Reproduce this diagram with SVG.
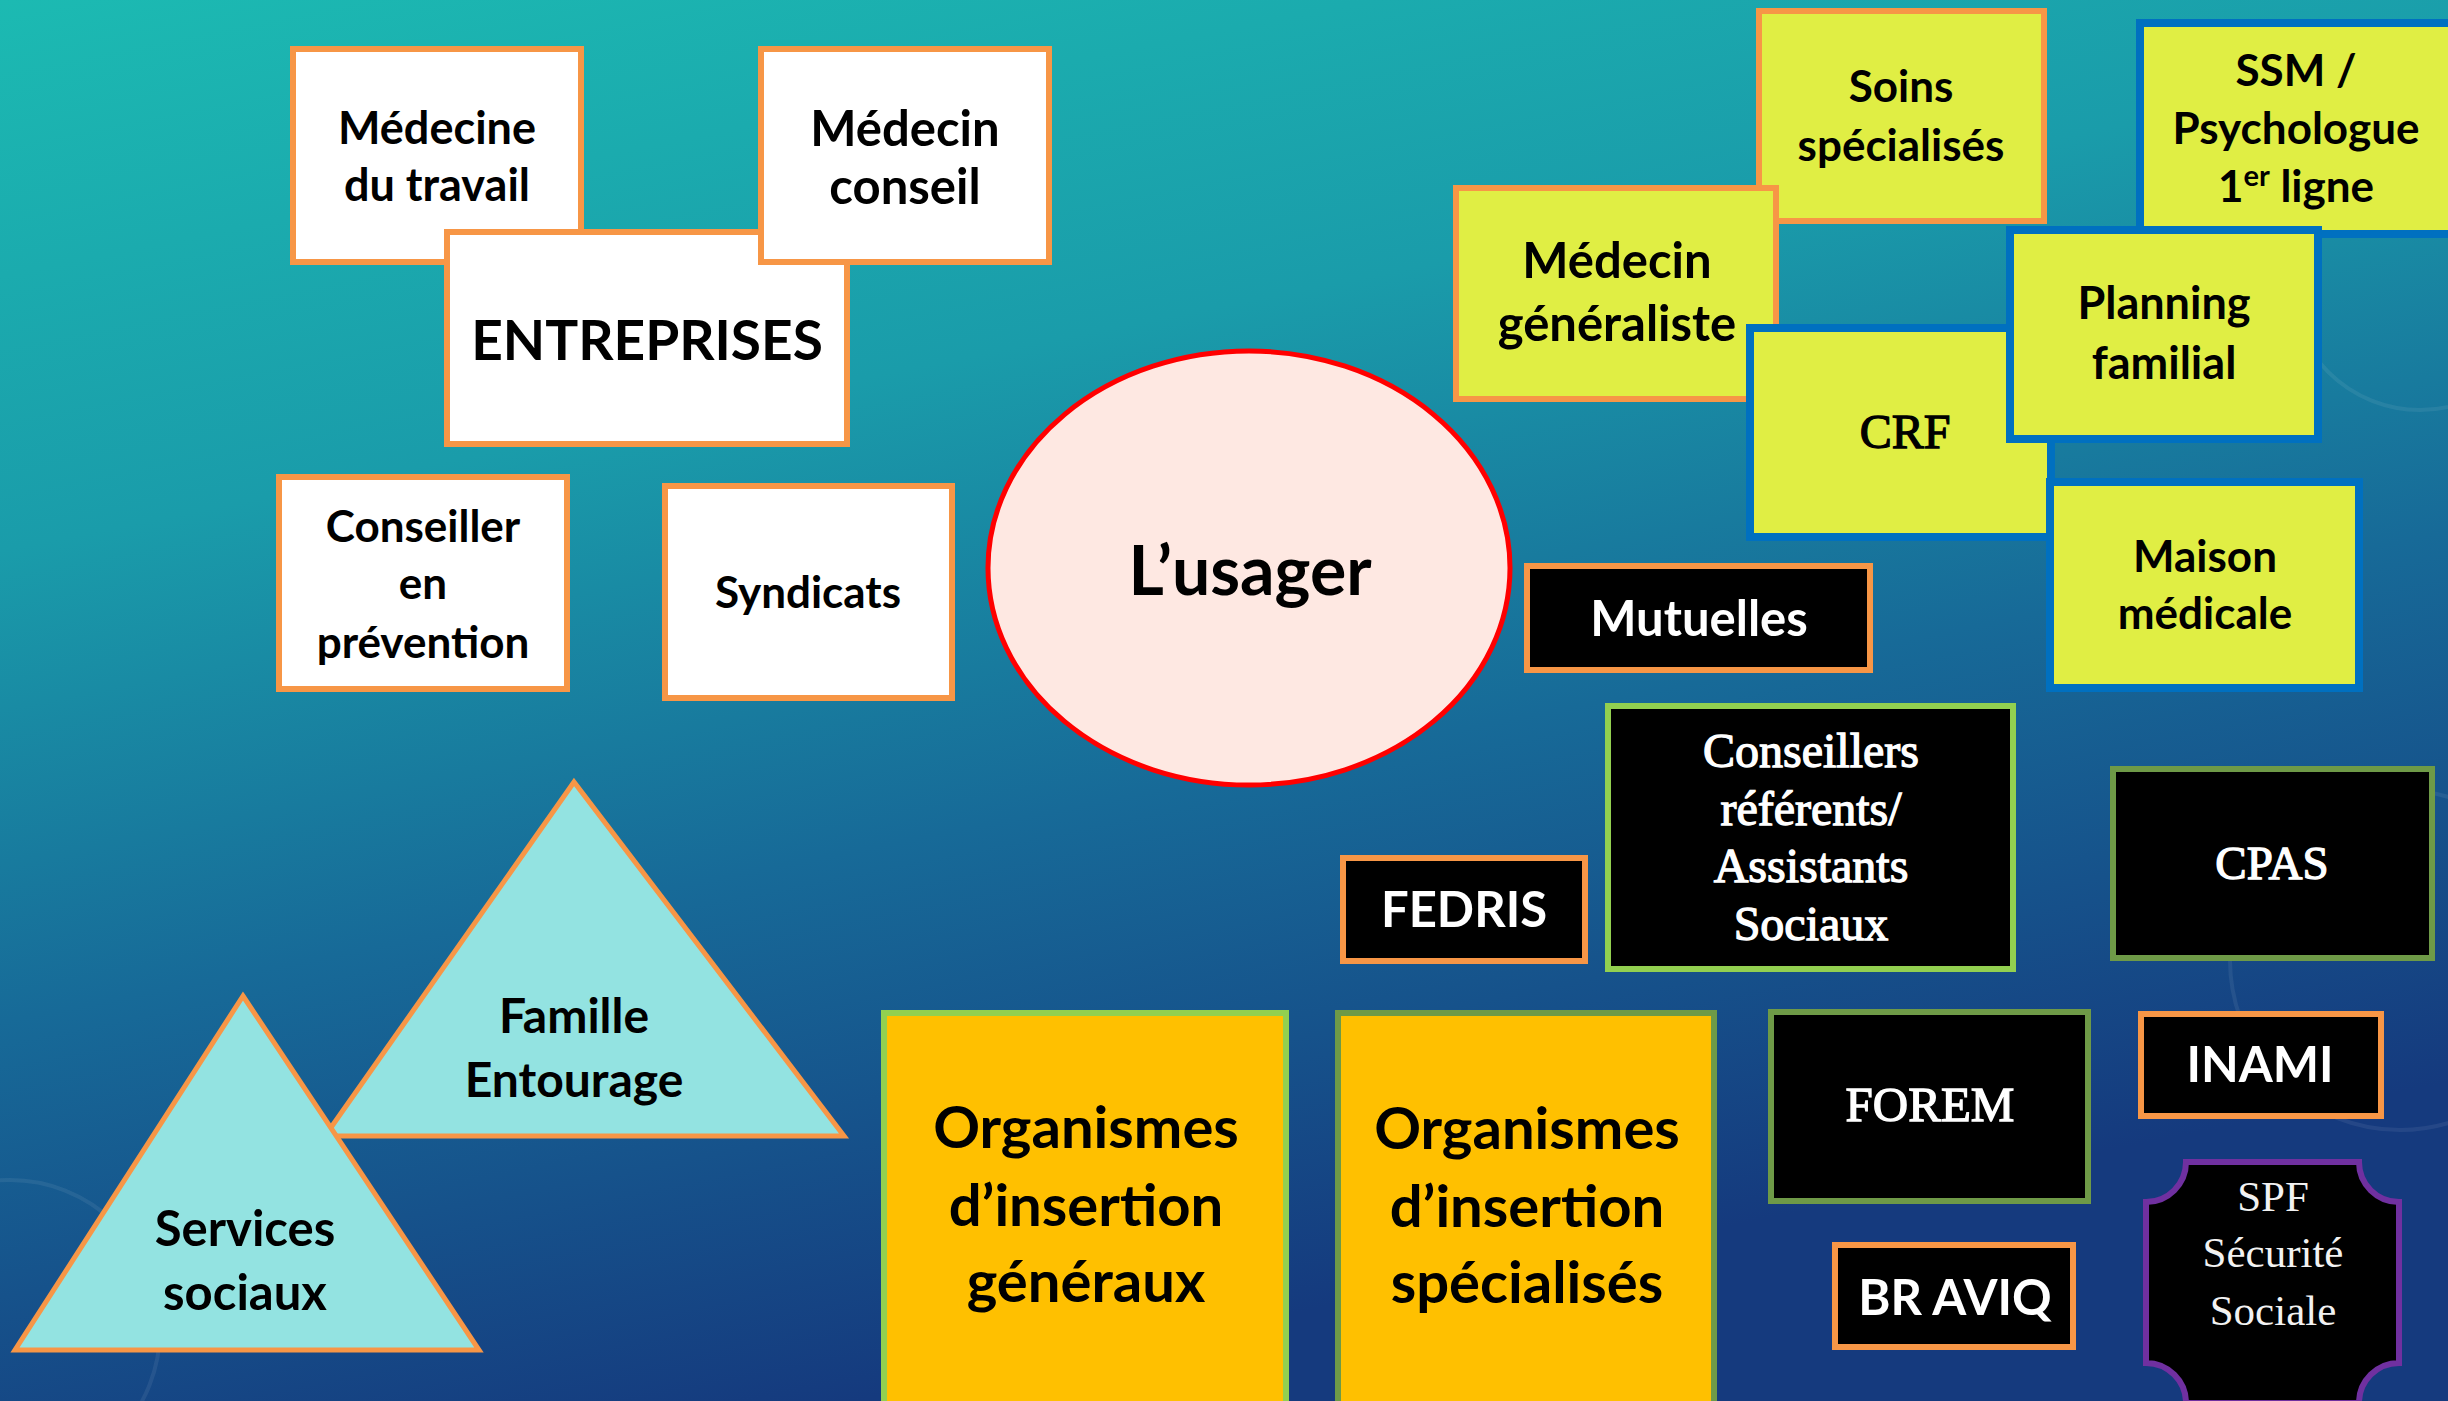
<svg xmlns="http://www.w3.org/2000/svg" width="2448" height="1401" viewBox="0 0 2448 1401">
<defs>
<linearGradient id="bg" x1="0" y1="0" x2="0.35" y2="1">
<stop offset="0" stop-color="#1CBAB2"/>
<stop offset="0.35" stop-color="#1A9CAA"/>
<stop offset="0.65" stop-color="#176A98"/>
<stop offset="1" stop-color="#153A7E"/>
</linearGradient>
<style>
.ow{fill:#FFFFFF;stroke:#F79646;stroke-width:6}
.oy{fill:#E0EE44;stroke:#F79646;stroke-width:6}
.by{fill:#E0EE44;stroke:#0070C0;stroke-width:8}
.ob{fill:#000000;stroke:#F79646;stroke-width:6}
.gb{fill:#000000;stroke:#92D050;stroke-width:6}
.db{fill:#000000;stroke:#6E9A47;stroke-width:6}
.og{fill:#FFC000;stroke:#92D050;stroke-width:6}
.od{fill:#FFC000;stroke:#6E9A47;stroke-width:6}
.tri{fill:#93E3E1;stroke:#F79646;stroke-width:5}
.deco{fill:none;stroke:#FFFFFF;stroke-opacity:0.07;stroke-width:4}
text{text-anchor:middle}
.c{font-family:Lato,"Open Sans",sans-serif;font-weight:700;fill:#000000}
.cw{font-family:Lato,"Open Sans",sans-serif;font-weight:700;fill:#FFFFFF}
.s{font-family:"Liberation Serif","DejaVu Serif",serif;font-weight:400;fill:#FFFFFF;stroke:#FFFFFF;stroke-width:1.3}
.sb{font-family:"Liberation Serif","DejaVu Serif",serif;font-weight:400;fill:#000000;stroke:#000000;stroke-width:1.3}
.sl{font-family:"Liberation Serif","DejaVu Serif",serif;font-weight:400;fill:#F2F2F2}
</style>
</defs>
<rect x="0" y="0" width="2448" height="1401" fill="url(#bg)"/>
<g id="decor">
<circle class="deco" cx="2420" cy="280" r="130"/>
<circle class="deco" cx="2400" cy="960" r="170"/>
<circle class="deco" cx="10" cy="1330" r="150"/>
</g>

<g id="medecine-travail">
<rect class="ow" x="293" y="49" width="288" height="213"/>
<text class="c" font-size="45" x="437" y="144">Médecine</text>
<text class="c" font-size="45" x="437" y="201">du travail</text>
</g>
<g id="entreprises">
<rect class="ow" x="447" y="232" width="400" height="212"/>
<text class="c" font-size="55" x="647" y="360">ENTREPRISES</text>
</g>
<g id="medecin-conseil">
<rect class="ow" x="761" y="49" width="288" height="213"/>
<text class="c" font-size="49" x="905" y="146">Médecin</text>
<text class="c" font-size="49" x="905" y="204">conseil</text>
</g>
<g id="conseiller-prevention">
<rect class="ow" x="279" y="477" width="288" height="212"/>
<text class="c" font-size="44" x="423" y="542">Conseiller</text>
<text class="c" font-size="44" x="423" y="599">en</text>
<text class="c" font-size="44" x="423" y="658">prévention</text>
</g>
<g id="syndicats">
<rect class="ow" x="665" y="486" width="287" height="212"/>
<text class="c" font-size="44" x="808" y="608">Syndicats</text>
</g>
<g id="usager">
<ellipse cx="1249" cy="568" rx="261" ry="217" fill="#FEE8E2" stroke="#FF0000" stroke-width="5"/>
<text class="c" font-size="68" x="1250" y="595">L’usager</text>
</g>

<g id="soins-specialises">
<rect class="oy" x="1759" y="11" width="285" height="210"/>
<text class="c" font-size="44" x="1901" y="102">Soins</text>
<text class="c" font-size="44" x="1901" y="161">spécialisés</text>
</g>
<g id="ssm">
<rect class="by" x="2140" y="23" width="315" height="211"/>
<text class="c" font-size="44" x="2296" y="86">SSM /</text>
<text class="c" font-size="44" x="2296" y="144">Psychologue</text>
<text class="c" font-size="44" x="2296" y="202">1<tspan font-size="29" dy="-16">er</tspan><tspan dy="16"> ligne</tspan></text>
</g>
<g id="medecin-generaliste">
<rect class="oy" x="1456" y="188" width="320" height="211"/>
<text class="c" font-size="49" x="1617" y="278">Médecin</text>
<text class="c" font-size="49" x="1617" y="341">généraliste</text>
</g>
<g id="crf">
<rect class="by" x="1750" y="328" width="301" height="209"/>
<text class="sb" font-size="48" x="1905" y="448">CRF</text>
</g>
<g id="planning-familial">
<rect class="by" x="2010" y="230" width="308" height="209"/>
<text class="c" font-size="45" x="2164" y="319">Planning</text>
<text class="c" font-size="45" x="2164" y="379">familial</text>
</g>
<g id="maison-medicale">
<rect class="by" x="2050" y="482" width="309" height="206"/>
<text class="c" font-size="44" x="2205" y="572">Maison</text>
<text class="c" font-size="44" x="2205" y="629">médicale</text>
</g>

<g id="mutuelles">
<rect class="ob" x="1527" y="566" width="343" height="104"/>
<text class="cw" font-size="49" x="1699" y="636">Mutuelles</text>
</g>
<g id="conseillers-referents">
<rect class="gb" x="1608" y="706" width="405" height="263"/>
<text class="s" font-size="48" x="1811" y="767">Conseillers</text>
<text class="s" font-size="48" x="1811" y="825">référents/</text>
<text class="s" font-size="48" x="1811" y="882">Assistants</text>
<text class="s" font-size="48" x="1811" y="940">Sociaux</text>
</g>
<g id="fedris">
<rect class="ob" x="1343" y="858" width="242" height="103"/>
<text class="cw" font-size="49" x="1464" y="927">FEDRIS</text>
</g>
<g id="cpas">
<rect class="db" x="2113" y="769" width="319" height="189"/>
<text class="s" font-size="47" x="2272" y="879">CPAS</text>
</g>
<g id="organismes-generaux">
<rect class="og" x="884" y="1013" width="402" height="420"/>
<text class="c" font-size="58" x="1086" y="1148">Organismes</text>
<text class="c" font-size="58" x="1086" y="1226">d’insertion</text>
<text class="c" font-size="58" x="1086" y="1302">généraux</text>
</g>
<g id="organismes-specialises">
<rect class="od" x="1338" y="1013" width="376" height="420"/>
<text class="c" font-size="58" x="1527" y="1149">Organismes</text>
<text class="c" font-size="58" x="1527" y="1227">d’insertion</text>
<text class="c" font-size="58" x="1527" y="1303">spécialisés</text>
</g>
<g id="forem">
<rect class="db" x="1771" y="1012" width="317" height="189"/>
<text class="s" font-size="49" x="1930" y="1121">FOREM</text>
</g>
<g id="inami">
<rect class="ob" x="2141" y="1014" width="240" height="102"/>
<text class="cw" font-size="49" x="2260" y="1082">INAMI</text>
</g>
<g id="br-aviq">
<rect class="ob" x="1835" y="1245" width="238" height="102"/>
<text class="cw" font-size="49" x="1955" y="1315">BR AVIQ</text>
</g>
<g id="spf">
<path d="M2186 1162 H2359 A40 40 0 0 0 2399 1202 V1363 A40 40 0 0 0 2359 1403 H2186 A40 40 0 0 0 2146 1363 V1202 A40 40 0 0 0 2186 1162 Z" fill="#000000" stroke="#7030A0" stroke-width="6"/>
<text class="sl" font-size="43" x="2273" y="1211">SPF</text>
<text class="sl" font-size="43" x="2273" y="1267">Sécurité</text>
<text class="sl" font-size="43" x="2273" y="1325">Sociale</text>
</g>

<g id="famille-entourage">
<polygon class="tri" points="574,782 844,1136 325,1136"/>
<text class="c" font-size="48" x="574" y="1033">Famille</text>
<text class="c" font-size="48" x="574" y="1097">Entourage</text>
</g>
<g id="services-sociaux">
<polygon class="tri" points="243,996 479,1350 15,1350"/>
<text class="c" font-size="49" x="245" y="1246">Services</text>
<text class="c" font-size="49" x="245" y="1310">sociaux</text>
</g>

<g id="connectors"></g>
</svg>
